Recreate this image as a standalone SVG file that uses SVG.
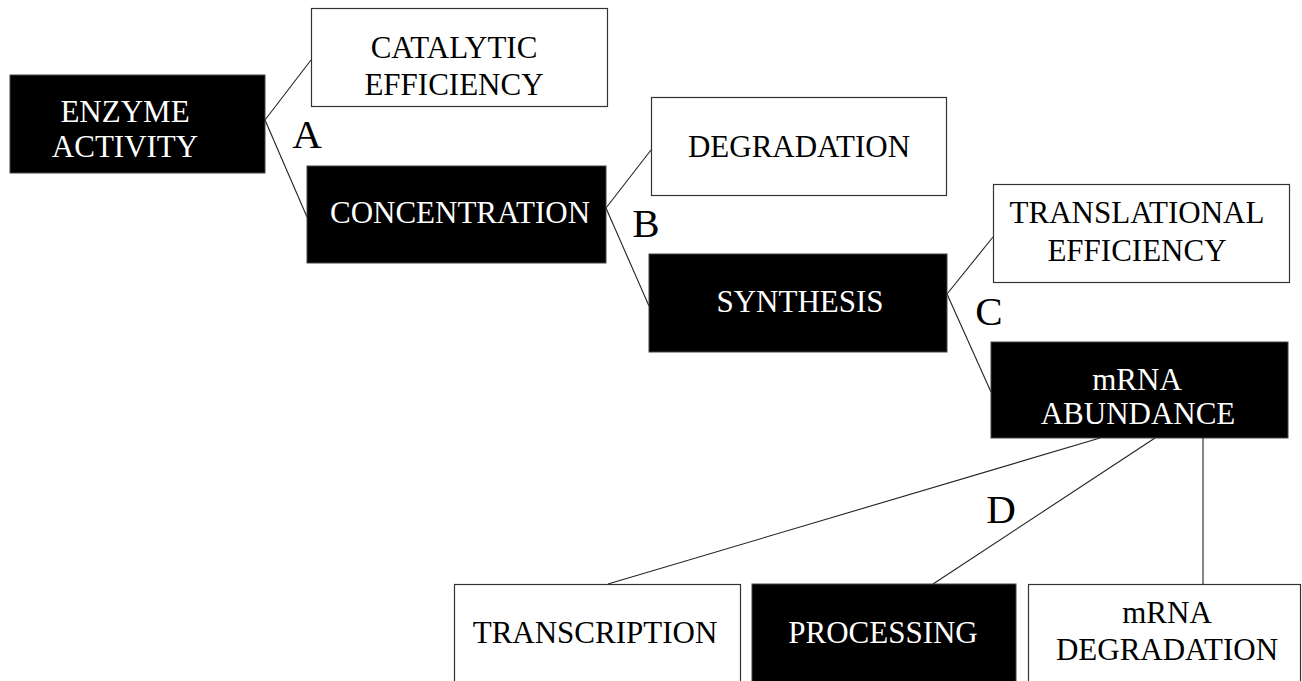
<svg xmlns="http://www.w3.org/2000/svg" width="1302" height="681" viewBox="0 0 1302 681" font-family="'Liberation Serif', 'Times New Roman', 'DejaVu Serif', serif">
  <style>
    .dark rect { fill: #000; stroke: #444; stroke-width: 1; }
    .light rect { fill: #fff; stroke: #333; stroke-width: 1.2; }
    text { font-family: 'Liberation Serif', 'Times New Roman', 'DejaVu Serif', serif; font-size: 31px; text-anchor: middle; }
    .dark text { fill: #fff; }
    .light text { fill: #000; }
    .label { font-size: 41px; fill: #000; }
    #connectors line { stroke: #222; stroke-width: 1.1; }
  </style>
  <rect width="1302" height="681" fill="#fff"/>

  <g id="connectors">
    <line x1="265" y1="120" x2="311" y2="60"/>
    <line x1="265" y1="120" x2="307" y2="217"/>
    <line x1="606" y1="208" x2="651" y2="150"/>
    <line x1="606" y1="208" x2="649" y2="306"/>
    <line x1="947" y1="294" x2="993" y2="237"/>
    <line x1="947" y1="294" x2="991" y2="392"/>
    <line x1="1100" y1="438" x2="608" y2="584"/>
    <line x1="1155" y1="438" x2="933" y2="584"/>
    <line x1="1203" y1="438" x2="1203" y2="584"/>
  </g>

  <g id="enzyme-activity" class="dark">
    <rect x="10" y="75" width="255" height="98"/>
    <text x="125" y="122">ENZYME</text>
    <text x="125" y="157">ACTIVITY</text>
  </g>

  <g id="catalytic-efficiency" class="light">
    <rect x="311.5" y="8.5" width="296" height="98"/>
    <text x="454" y="58">CATALYTIC</text>
    <text x="454" y="95">EFFICIENCY</text>
  </g>

  <g id="concentration" class="dark">
    <rect x="307" y="166" width="299" height="97"/>
    <text x="460" y="223">CONCENTRATION</text>
  </g>

  <g id="degradation" class="light">
    <rect x="651.5" y="97.5" width="295" height="98"/>
    <text x="799" y="157">DEGRADATION</text>
  </g>

  <g id="synthesis" class="dark">
    <rect x="649" y="254" width="298" height="98"/>
    <text x="800" y="312">SYNTHESIS</text>
  </g>

  <g id="translational-efficiency" class="light">
    <rect x="993.5" y="184.5" width="296" height="98"/>
    <text x="1137" y="223">TRANSLATIONAL</text>
    <text x="1137" y="261">EFFICIENCY</text>
  </g>

  <g id="mrna-abundance" class="dark">
    <rect x="991" y="342" width="297" height="96"/>
    <text x="1137" y="390">mRNA</text>
    <text x="1138" y="424">ABUNDANCE</text>
  </g>

  <g id="transcription" class="light">
    <rect x="454.5" y="584.5" width="286" height="100"/>
    <text x="595" y="643">TRANSCRIPTION</text>
  </g>

  <g id="processing" class="dark">
    <rect x="752" y="584" width="264" height="100"/>
    <text x="883" y="643">PROCESSING</text>
  </g>

  <g id="mrna-degradation" class="light">
    <rect x="1028.5" y="584.5" width="272" height="100"/>
    <text x="1167" y="623">mRNA</text>
    <text x="1167" y="660">DEGRADATION</text>
  </g>

  <g id="step-labels">
    <text class="label" x="307" y="148">A</text>
    <text class="label" x="646" y="237">B</text>
    <text class="label" x="989" y="325">C</text>
    <text class="label" x="1001" y="523">D</text>
  </g>
</svg>
